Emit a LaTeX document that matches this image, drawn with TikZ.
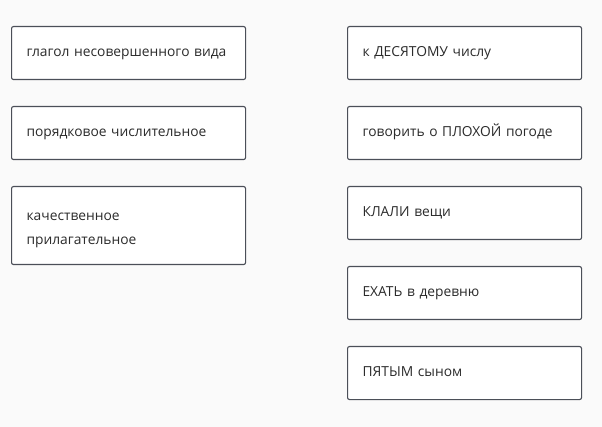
\documentclass[tikz,border=0pt]{standalone}
\usepackage{fontspec}
\setmainfont{Open Sans}
\usepackage{tikz}
\definecolor{bggray}{HTML}{FAFAFA}
\definecolor{boxgray}{HTML}{4B4F58}
\definecolor{textgray}{HTML}{2B2B2B}

\begin{document}
\begin{tikzpicture}[x=1pt,y=-1pt,
    cardbase/.style={draw=boxgray, fill=white, rounded corners=2pt, line width=1.1pt,
      anchor=north west, text width=204pt, inner xsep=15pt, inner ysep=0pt,
      minimum height=53pt, align=left, text=textgray,
      font=\fontsize{13.8}{24}\selectfont},
    card/.style={cardbase, text height=10pt, text depth=2.6pt}]
        \fill [bggray] (0,0) rectangle (602,427);
        \useasboundingbox (0,0) rectangle (602,427);
        % left column
        \node [card] (glagol) at (11,26) {глагол несовершенного вида};
        \node [card] (poryad) at (11,106) {порядковое числительное};
        \node [cardbase, minimum height=78pt, text height=10pt, text depth=21pt] (kach) at (11,186) {качественное\\прилагательное};
        % right column
        \node [card] (desyat) at (347,26) {к ДЕСЯТОМУ числу};
        \node [card] (plokh) at (347,106) {говорить о ПЛОХОЙ погоде};
        \node [card] (klali) at (347,186) {КЛАЛИ вещи};
        \node [card] (ekhat) at (347,266) {ЕХАТЬ в деревню};
        \node [card] (pyat) at (347,346) {ПЯТЫМ сыном};
\end{tikzpicture}
\end{document}
